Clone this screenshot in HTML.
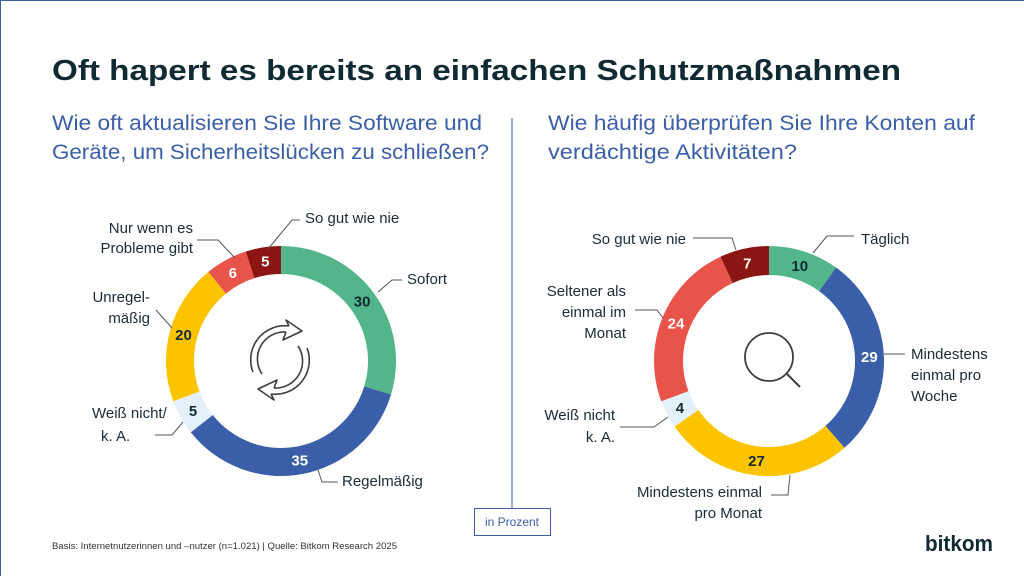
<!DOCTYPE html>
<html><head><meta charset="utf-8"><style>
html,body{margin:0;padding:0;background:#fff}
svg{display:block}
text{font-family:"Liberation Sans",sans-serif}
</style></head><body>
<svg id="s" width="1024" height="576" viewBox="0 0 1024 576" xmlns="http://www.w3.org/2000/svg">
<rect x="0.5" y="0.5" width="1100" height="600" fill="#fff" stroke="#3a5fa8" stroke-width="1"/>
<text x="52" y="80" font-size="29" font-weight="bold" fill="#0f2a33" textLength="849" lengthAdjust="spacingAndGlyphs">Oft hapert es bereits an einfachen Schutzmaßnahmen</text>
<g font-size="21" fill="#3a5fa8">
<text x="52" y="130" textLength="430" lengthAdjust="spacingAndGlyphs">Wie oft aktualisieren Sie Ihre Software und</text>
<text x="52" y="159" textLength="437" lengthAdjust="spacingAndGlyphs">Geräte, um Sicherheitslücken zu schließen?</text>
<text x="548" y="130" textLength="427" lengthAdjust="spacingAndGlyphs">Wie häufig überprüfen Sie Ihre Konten auf</text>
<text x="548" y="159" textLength="249" lengthAdjust="spacingAndGlyphs">verdächtige Aktivitäten?</text>
</g>
<line x1="512" y1="118" x2="512" y2="508" stroke="#3a5fa8" stroke-width="1"/>
<rect x="474.5" y="508.5" width="76" height="27" fill="#fff" stroke="#3a5fa8"/>
<text x="512" y="526" font-size="12" fill="#3a5fa8" text-anchor="middle">in Prozent</text>
<text x="52" y="549" font-size="9" fill="#333" textLength="345" lengthAdjust="spacingAndGlyphs">Basis: Internetnutzerinnen und –nutzer (n=1.021) | Quelle: Bitkom Research 2025</text>
<text x="925" y="551" font-size="22" fill="#0f2a33" font-family="Liberation Serif" font-weight="bold" textLength="68" lengthAdjust="spacingAndGlyphs">bitkom</text>
<g id="donuts"></g>
<g stroke="#555" stroke-width="1" fill="none">
<polyline points="268,249 292,220 300,220"/>
<polyline points="235,258 218,240 197,240"/>
<polyline points="378,292 392,280 402,280"/>
<polyline points="172,328 156,310"/>
<polyline points="183,422 172,435 155,435"/>
<polyline points="318,470 322,482 338,482"/>
<polyline points="813,253 827,236 854,236"/>
<polyline points="693,238 732,238 736,250"/>
<polyline points="635,310 657,310 663,318"/>
<polyline points="884,354 905,354"/>
<polyline points="620,427 654,427 668,417"/>
<polyline points="771,495 788,495 790,475"/>
</g>
<g font-size="15" fill="#1a2b35">
<text x="305" y="223">So gut wie nie</text>
<text x="193" y="233" text-anchor="end">Nur wenn es</text>
<text x="193" y="253" text-anchor="end">Probleme gibt</text>
<text x="407" y="284">Sofort</text>
<text x="150" y="302" text-anchor="end">Unregel-</text>
<text x="150" y="323" text-anchor="end">mäßig</text>
<text x="92" y="418">Weiß nicht/</text>
<text x="101" y="441">k. A.</text>
<text x="342" y="486">Regelmäßig</text>
<text x="861" y="244">Täglich</text>
<text x="686" y="244" text-anchor="end">So gut wie nie</text>
<text x="626" y="296" text-anchor="end">Seltener als</text>
<text x="626" y="317" text-anchor="end">einmal im</text>
<text x="626" y="338" text-anchor="end">Monat</text>
<text x="911" y="359">Mindestens</text>
<text x="911" y="380">einmal pro</text>
<text x="911" y="401">Woche</text>
<text x="615" y="420" text-anchor="end">Weiß nicht</text>
<text x="615" y="442" text-anchor="end">k. A.</text>
<text x="762" y="497" text-anchor="end">Mindestens einmal</text>
<text x="762" y="518" text-anchor="end">pro Monat</text>
</g>
<g stroke="#3a3f44" stroke-width="1.6" fill="none" stroke-linejoin="round">
<path d="M262,374 A27,27 0 0 1 286,332"/>
<path d="M253,372 A34,34 0 0 1 289,326"/>
<path d="M289,326 L286,320 L302,331 L283,340 L286,332"/>
<path d="M298,346 A27,27 0 0 1 274,388"/>
<path d="M307,348 A34,34 0 0 1 271,394"/>
<path d="M271,394 L274,400 L258,389 L277,380 L274,388"/>
</g>
<g stroke="#3a3f44" stroke-width="1.8" fill="none">
<circle cx="769" cy="357" r="24"/>
<line x1="787" y1="374" x2="800" y2="387" stroke-width="2"/>
</g>
</svg>
<script>
function donut(cx,cy,R,r,data){
  var g=document.getElementById('donuts'),ns='http://www.w3.org/2000/svg';
  var tot=0;data.forEach(d=>tot+=d[0]);
  var a=0;
  data.forEach(function(d){
    var a0=a/tot*2*Math.PI,a1=(a+d[0])/tot*2*Math.PI;a+=d[0];
    function p(rad,ang){return [cx+rad*Math.sin(ang),cy-rad*Math.cos(ang)];}
    var L=(a1-a0)>Math.PI?1:0;
    var o0=p(R,a0),o1=p(R,a1),i1=p(r,a1),i0=p(r,a0);
    var path=document.createElementNS(ns,'path');
    path.setAttribute('d','M'+o0+' A'+R+','+R+' 0 '+L+' 1 '+o1+' L'+i1+' A'+r+','+r+' 0 '+L+' 0 '+i0+' Z');
    path.setAttribute('fill',d[1]);
    g.appendChild(path);
    var m=(a0+a1)/2,q=p((R+r)/2,m);
    var t=document.createElementNS(ns,'text');
    t.setAttribute('x',q[0]);t.setAttribute('y',q[1]+5.5);
    t.setAttribute('text-anchor','middle');t.setAttribute('font-size','15');
    t.setAttribute('font-weight','bold');t.setAttribute('fill',d[2]);
    t.textContent=d[3];g.appendChild(t);
  });
}
var G='#53b68b',B='#3a5fa8',Lb='#e4f1fb',Y='#fcc400',Rd='#e8534a',D='#8b1512',dk='#102a33',w='#fff';
donut(281,361,115,87,[[30,G,dk,'30'],[35,B,w,'35'],[5,Lb,dk,'5'],[20,Y,dk,'20'],[6,Rd,w,'6'],[5,D,w,'5']]);
donut(769,361,115,86,[[10,G,dk,'10'],[29,B,w,'29'],[27,Y,dk,'27'],[4,Lb,dk,'4'],[24,Rd,w,'24'],[7,D,w,'7']]);
</script>
</body></html>
